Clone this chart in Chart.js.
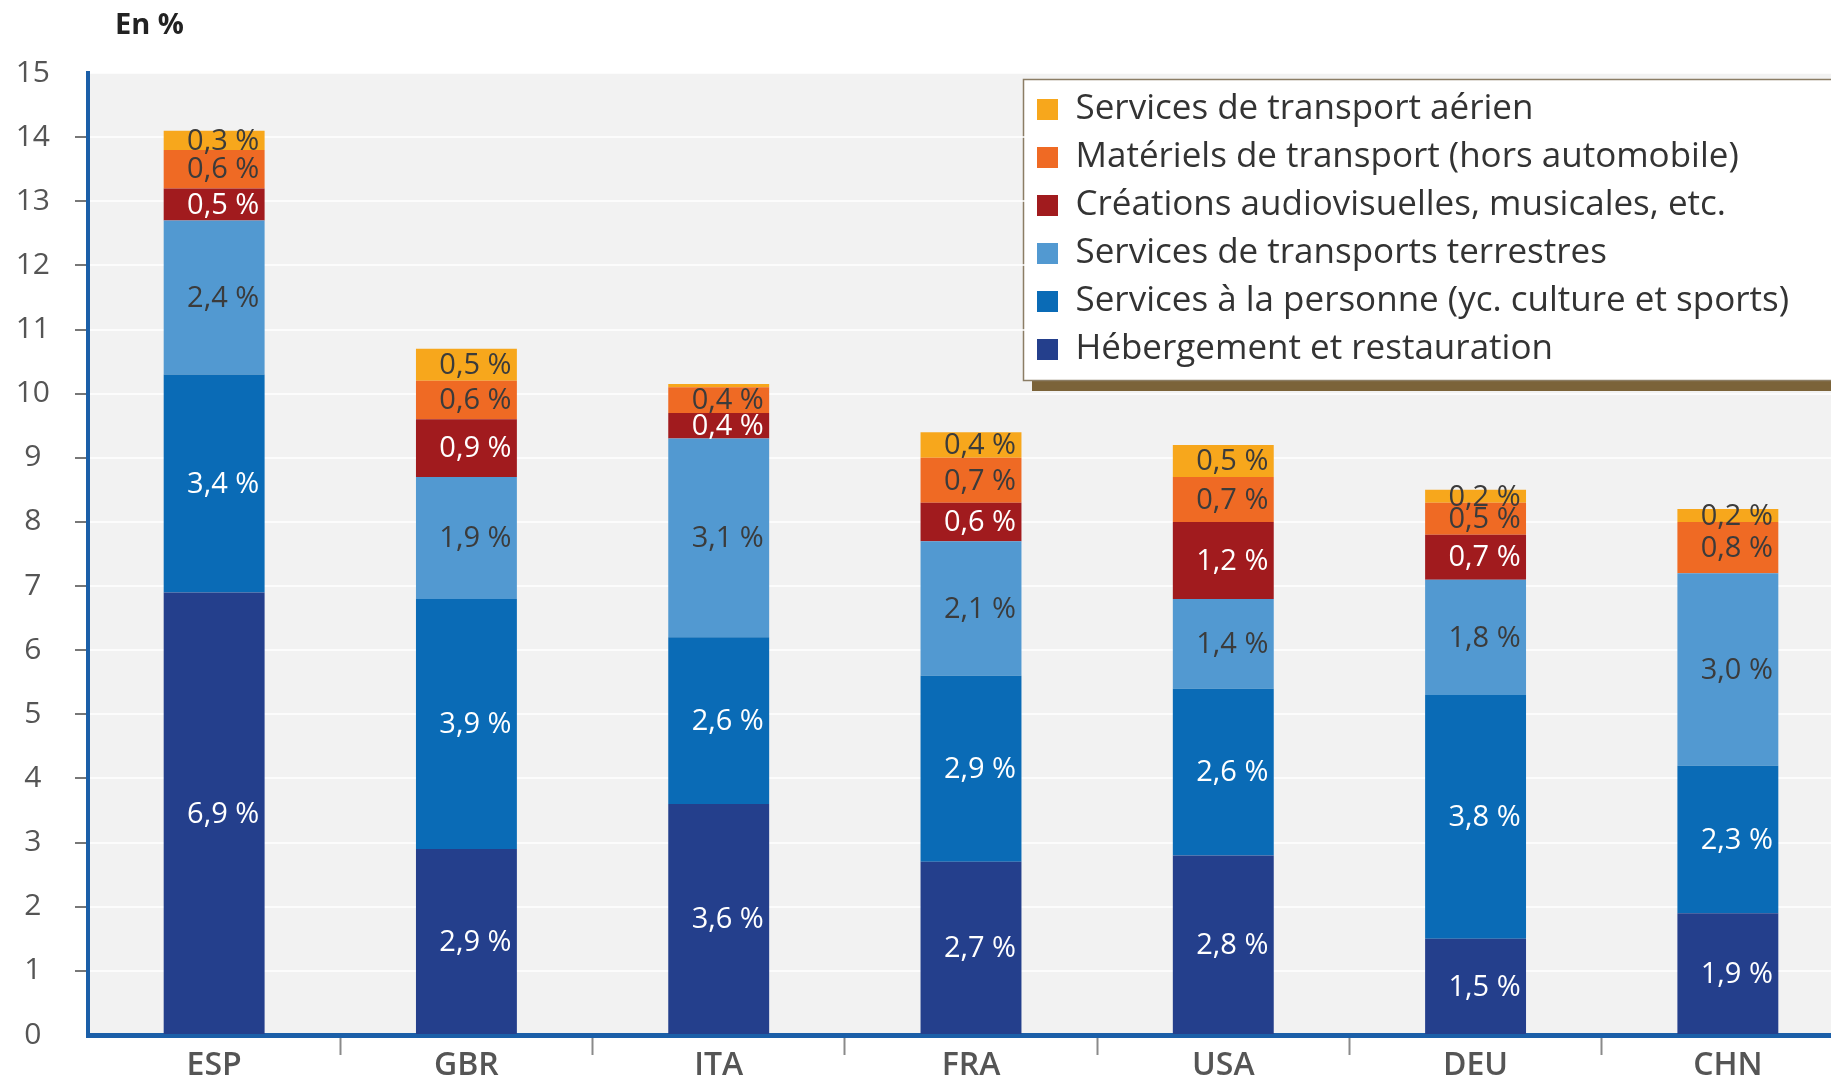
<!DOCTYPE html>
<html>
<head>
<meta charset="utf-8">
<script src="https://cdn.jsdelivr.net/npm/chart.js@4/dist/chart.umd.min.js"></script>
<style>
  html, body { margin: 0; padding: 0; background: #fff; }
  #wrap { width: 1831px; height: 1081px; overflow: hidden; }
</style>
</head>
<body>
<div id="wrap"><canvas id="tourismChart" width="1854" height="1081"></canvas></div>
<script>
const countries = ["ESP", "GBR", "ITA", "FRA", "USA", "DEU", "CHN"];

// shares in % (bottom to top of each bar)
const hebergement = [6.9, 2.9, 3.6, 2.7, 2.8, 1.5, 1.9];
const servicesPersonne = [3.4, 3.9, 2.6, 2.9, 2.6, 3.8, 2.3];
const transportsTerrestres = [2.4, 1.9, 3.1, 2.1, 1.4, 1.8, 3.0];
const creations = [0.5, 0.9, 0.4, 0.6, 1.2, 0.7, 0];
const materielsTransport = [0.6, 0.6, 0.4, 0.7, 0.7, 0.5, 0.8];
const transportAerien = [0.3, 0.5, 0.05, 0.4, 0.5, 0.2, 0.2];

const yTicksMax = 15;

const fmt = v => v.toFixed(1).replace(".", ",") + " %";

const FONT = "'Open Sans'";
const dark = "#3b3b3b";
const series = [
  { label: "Hébergement et restauration", data: hebergement, color: "#243f8c", text: "#fff" },
  { label: "Services à la personne (yc. culture et sports)", data: servicesPersonne, color: "#0a6bb6", text: "#fff" },
  { label: "Services de transports terrestres", data: transportsTerrestres, color: "#5299d1", text: dark },
  { label: "Créations audiovisuelles, musicales, etc.", data: creations, color: "#a11b1e", text: "#fff" },
  { label: "Matériels de transport (hors automobile)", data: materielsTransport, color: "#ef6a24", text: dark },
  { label: "Services de transport aérien", data: transportAerien, color: "#f7a71c", text: dark }
];

const decorPlugin = {
  id: "decor",
  afterLayout(chart) {
    // put the legend in the top right corner, as in the report
    const lg = chart.legend;
    lg.left = 1024;
    lg.top = 79;
    lg.right = chart.width;
    lg.bottom = 460;
  },
  beforeDraw(chart) {
    const { ctx, chartArea } = chart;
    ctx.save();
    ctx.fillStyle = "#f2f2f2";
    ctx.fillRect(chartArea.left, chartArea.top, chartArea.right - chartArea.left, chartArea.bottom - chartArea.top);

    ctx.fillStyle = "#7b6339";
    ctx.fillRect(1032, 90, chart.width - 1032, 301);
    ctx.fillStyle = "#fff";
    ctx.fillRect(1023, 79, chart.width - 1023, 302);
    ctx.strokeStyle = "#8b7d65";
    ctx.lineWidth = 1.5;
    ctx.strokeRect(1023.5, 79.5, chart.width, 301);

    ctx.fillStyle = "#222";
    ctx.font = "bold 29px " + FONT;
    ctx.textBaseline = "middle";
    ctx.fillText("En %", 115, 26);
    ctx.restore();
  },
  afterDatasetsDraw(chart) {
    const { ctx } = chart;
    ctx.save();
    ctx.font = "29px " + FONT;
    ctx.textAlign = "center";
    ctx.textBaseline = "middle";
    chart.data.datasets.forEach((ds, i) => {
      const meta = chart.getDatasetMeta(i);
      meta.data.forEach((bar, j) => {
        const v = ds.data[j];
        if (v < 0.1) return;
        ctx.fillStyle = series[i].text;
        ctx.fillText(fmt(v), bar.x + 9, (bar.y + bar.base) / 2 + 1);
      });
    });
    ctx.restore();
  }
};

const ctx = document.getElementById("tourismChart").getContext("2d");

new Chart(ctx, {
  type: "bar",
  data: {
    labels: countries,
    datasets: series.map(s => ({
      label: s.label,
      data: s.data,
      backgroundColor: s.color,
      borderWidth: 0,
      categoryPercentage: 1,
      barPercentage: 0.4
    }))
  },
  options: {
    responsive: false,
    animation: false,
    layout: { padding: { top: 73, right: 0, left: 0, bottom: 0 } },
    plugins: {
      tooltip: { enabled: false },
      legend: {
        position: "chartArea",
        align: "start",
        reverse: true,
        labels: {
          boxWidth: 21,
          boxHeight: 21,
          padding: 13,
          color: "#333",
          font: { family: FONT, size: 35, weight: "500" }
        }
      }
    },
    scales: {
      x: {
        stacked: true,
        grid: {
          offset: true,
          drawOnChartArea: false,
          tickLength: 20,
          tickWidth: 2,
          tickColor: c => c.index === 0 ? "transparent" : "#8a8a8a"
        },
        border: { color: "#1b5fa8", width: 5 },
        ticks: {
          color: "#555",
          padding: -8,
          font: { family: FONT, size: 32, weight: "600" }
        },
        afterFit: scale => { scale.height = 46; }
      },
      y: {
        stacked: true,
        min: 0,
        max: yTicksMax,
        grid: {
          color: "rgba(255,255,255,0.75)",
          lineWidth: 2,
          tickLength: 13,
          tickWidth: 2,
          tickColor: c => (c.tick && (c.tick.value === 0 || c.tick.value === yTicksMax)) ? "transparent" : "#777"
        },
        border: { color: "#1b5fa8", width: 4 },
        ticks: {
          stepSize: 1,
          color: "#555",
          crossAlign: "center",
          padding: 25,
          font: { family: FONT, size: 30 }
        },
        afterFit: scale => { scale.width = 88; }
      }
    }
  },
  plugins: [decorPlugin]
});
</script>
</body>
</html>
